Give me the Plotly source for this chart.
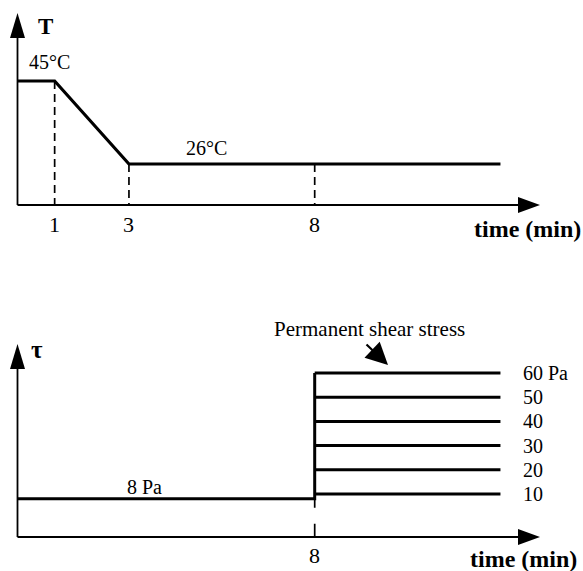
import plotly.graph_objects as go

# ---- data -------------------------------------------------------------
# temperature program (top panel)
temp_time = [0, 1, 3, 13]          # min
temp_vals = [45, 45, 26, 26]       # degC
temp_marks = [1, 3, 8]             # dashed guide times
temp_mark_vals = [45, 26, 26]

# shear-stress program (bottom panel)
pre_time = [0, 8]                  # min
pre_stress = 8                     # Pa, pre-shear
step_time = 8                      # min, start of permanent stress
end_time = 13                      # min
stress_levels = [10, 20, 30, 40, 50, 60]   # Pa
level_labels = ["10", "20", "30", "40", "50", "60 Pa"]
bottom_ticks = [8]

# ---- page geometry ----------------------------------------------------
W, H = 583, 571
FONT = "Liberation Serif"
X0_PX, X_SCALE = 17.5, 37.15        # x pixel of t=0, pixels per minute
T_BASE = 16.6                       # temperature at the top time axis
P_BASE = -7.8                       # stress at the bottom time axis


def px(x):
    return x / W


def py(y):
    return 1 - y / H


x_range = [(0 - X0_PX) / X_SCALE, (W - X0_PX) / X_SCALE]

fig = go.Figure()

black = "#000000"

# temperature profile
fig.add_trace(go.Scatter(x=temp_time, y=temp_vals, mode="lines",
                         line=dict(color=black, width=3.2),
                         xaxis="x", yaxis="y"))
for t, v in zip(temp_marks, temp_mark_vals):
    fig.add_trace(go.Scatter(x=[t, t], y=[v, T_BASE], mode="lines",
                             line=dict(color=black, width=1.7, dash="8px,5px"),
                             xaxis="x", yaxis="y"))

# pre-shear then step to the permanent stress
fig.add_trace(go.Scatter(x=pre_time + [step_time],
                         y=[pre_stress, pre_stress, max(stress_levels)],
                         mode="lines", line=dict(color=black, width=3),
                         xaxis="x2", yaxis="y2"))
fig.add_trace(go.Scatter(x=[step_time, step_time], y=[pre_stress, P_BASE],
                         mode="lines",
                         line=dict(color=black, width=1.7, dash="9px,16px,14px"),
                         xaxis="x2", yaxis="y2"))
for lvl in stress_levels:
    fig.add_trace(go.Scatter(x=[step_time, end_time], y=[lvl, lvl],
                             mode="lines", line=dict(color=black, width=3),
                             xaxis="x2", yaxis="y2"))

# ---- axes drawn as arrows ---------------------------------------------
shapes = []


def axis_arrows(x_org, y_org, y_tip, x_tip):
    # vertical axis
    shapes.append(dict(type="line", xref="paper", yref="paper",
                       x0=px(x_org), y0=py(y_org), x1=px(x_org), y1=py(y_tip + 24),
                       line=dict(color=black, width=1.8)))
    shapes.append(dict(type="path", xref="paper", yref="paper",
                       path=f"M {px(x_org)},{py(y_tip)} L {px(x_org - 7.5)},{py(y_tip + 25)} "
                            f"L {px(x_org + 7.5)},{py(y_tip + 25)} Z",
                       fillcolor=black, line=dict(width=0)))
    # horizontal axis
    shapes.append(dict(type="line", xref="paper", yref="paper",
                       x0=px(x_org), y0=py(y_org), x1=px(x_tip - 21), y1=py(y_org),
                       line=dict(color=black, width=1.8)))
    shapes.append(dict(type="path", xref="paper", yref="paper",
                       path=f"M {px(x_tip)},{py(y_org)} L {px(x_tip - 22)},{py(y_org - 8)} "
                            f"L {px(x_tip - 22)},{py(y_org + 8)} Z",
                       fillcolor=black, line=dict(width=0)))


axis_arrows(17.5, 205, 13, 540)
axis_arrows(17.5, 537, 344, 540)

# ---- text -------------------------------------------------------------
ann = []


def text(x, y, s, size=20, bold=False, xref="paper", yref="paper",
         xanchor="center", yshift=0):
    ann.append(dict(x=x, y=y, xref=xref, yref=yref, text=f"<b>{s}</b>" if bold else s,
                    showarrow=False, xanchor=xanchor, yanchor="middle", yshift=yshift,
                    font=dict(family=FONT, size=size, color=black)))


text(px(45), py(27), "T", size=23, bold=True)
text(0.85, 45, "45°C", xref="x", yref="y", yshift=19)
text(5.1, 26, "26°C", xref="x", yref="y", yshift=16)
for t in temp_marks:
    text(t, py(224), str(t), size=22, xref="x")
text(px(527), py(229), "time (min)", size=24, bold=True)

text(px(37), py(349), "τ", size=25, bold=True)
text(3.43, pre_stress, "8 Pa", xref="x2", yref="y2", yshift=12)
for lvl, lab in zip(stress_levels, level_labels):
    text(13.55, lvl, lab, xref="x2", yref="y2", xanchor="left", size=20)
for t in bottom_ticks:
    text(t, py(555), str(t), size=22, xref="x2")
text(px(523), py(559), "time (min)", size=24, bold=True)
text(px(369), py(329), "Permanent shear stress", size=21)
ann.append(dict(x=px(388), y=py(365), xref="paper", yref="paper",
                ax=-23, ay=-22, axref="pixel", ayref="pixel",
                text="", showarrow=True, arrowhead=2, arrowsize=2,
                arrowwidth=2.2, arrowcolor=black))

# ---- layout -----------------------------------------------------------
hidden = dict(visible=False, showgrid=False, zeroline=False, fixedrange=True)
fig.update_layout(
    width=W, height=H, autosize=False,
    margin=dict(l=0, r=0, t=0, b=0),
    paper_bgcolor="white", plot_bgcolor="white",
    showlegend=False,
    xaxis=dict(hidden, domain=[0, 1], range=x_range, anchor="y"),
    yaxis=dict(hidden, domain=[1 - 230 / H, 1], range=[10.89, 63.54], anchor="x"),
    xaxis2=dict(hidden, domain=[0, 1], range=x_range, anchor="y2"),
    yaxis2=dict(hidden, domain=[0, 1 - 250 / H], range=[-21.82, 110.83], anchor="x2"),
    shapes=shapes,
    annotations=ann,
)

fig.write_html("out.html", config={"displayModeBar": False})
